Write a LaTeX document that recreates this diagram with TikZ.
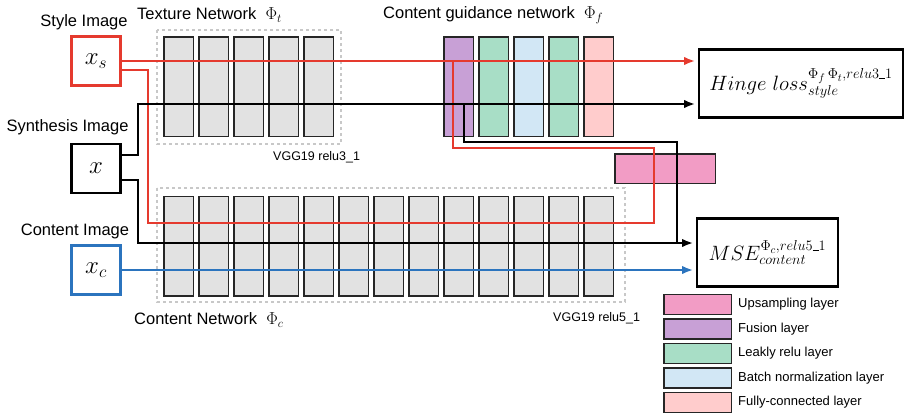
\documentclass[tikz,border=0pt]{standalone}
\usepackage{fontspec}
\setmainfont{Liberation Sans}
\usetikzlibrary{arrows.meta,positioning}

\definecolor{layerGray}{HTML}{E2E2E2}
\definecolor{fuseColor}{HTML}{C8A0D6}
\definecolor{reluColor}{HTML}{A8DEC6}
\definecolor{bnColor}{HTML}{D2E7F5}
\definecolor{fcColor}{HTML}{FFCCCC}
\definecolor{upColor}{HTML}{F29CC5}
\definecolor{styleRed}{HTML}{E53A2E}
\definecolor{contentBlue}{HTML}{2B74BE}
\definecolor{dashGray}{HTML}{C8C8C8}

\newcommand{\usbar}{\rule{6pt}{0.7pt}}

\tikzset{
  imgbox/.style={draw, line width=2.6pt, fill=white, minimum width=49, minimum height=49, inner sep=0, font=\fontsize{24}{26}\selectfont},
  layer/.style={draw=black!85, line width=1.5pt, minimum width=29.5, minimum height=99.5, inner sep=0},
  netbox/.style={draw=dashGray, dashed, line width=1.2pt},
  lossbox/.style={draw, line width=2.4pt, fill=white, minimum height=68, inner sep=0, font=\fontsize{22}{24}\selectfont},
  conn/.style={line width=1.9pt},
  tip/.style={-{Latex[length=11pt,width=8.5pt]}, shorten >=3pt},
  lbl/.style={font=\fontsize{16.5}{18}\selectfont, inner sep=0},
  smalllbl/.style={font=\fontsize{12.5}{14}\selectfont, inner sep=0},
  keybox/.style={draw=black!85, line width=1.5pt, minimum width=67.5, minimum height=20, inner sep=0},
  keylbl/.style={font=\fontsize{13}{15}\selectfont, inner sep=0},
}

\begin{document}
\begin{tikzpicture}[x=1pt,y=-1pt]
  \useasboundingbox (0,0) rectangle (906,413);

  %%%%%%%%%%%%%Input images%%%%%%%%%%%%%%%%%%%%%%
  \node[imgbox, draw=styleRed] (xs) at (96,61) {$x_s$};
  \node[imgbox] (syn) at (96,168.5) {$x$};
  \node[imgbox, draw=contentBlue] (xc) at (96,270) {$x_c$};
  \node[lbl] (styleLbl) at (84,22) {Style Image};
  \node[lbl] (synLbl) at (67.5,127) {Synthesis Image};
  \node[lbl] (conLbl) at (75,231) {Content Image};

  %%%%%%%%%%%%%Texture network%%%%%%%%%%%%%%%%%%%%%%
  \draw[netbox] (157,30) rectangle (341,144);
  \foreach \i in {1,...,5}
    \node[layer, fill=layerGray] (t\i) at ({143.5+35*\i},86.5) {};
  \node[lbl, anchor=west] (texLbl) at (137,15) {Texture Network \ $\Phi_t$};
  \node[smalllbl, anchor=west] (texVgg) at (273,157) {VGG19 relu3\_1};

  %%%%%%%%%%%%%Content network%%%%%%%%%%%%%%%%%%%%%%
  \draw[netbox] (157,188) rectangle (625,302);
  \foreach \i in {1,...,13}
    \node[layer, fill=layerGray] (c\i) at ({143.5+35*\i},246) {};
  \node[lbl, anchor=west] (conNetLbl) at (134,320) {Content Network \ $\Phi_c$};
  \node[smalllbl, anchor=west] (conVgg) at (553,318) {VGG19 relu5\_1};

  %%%%%%%%%%%%%Content guidance network%%%%%%%%%%%%%%%%%%%%%%
  \foreach \c [count=\i] in {fuseColor,reluColor,bnColor,reluColor,fcColor}
    \node[layer, fill=\c] (g\i) at ({423.5+35*\i},86.5) {};
  \node[lbl, anchor=west] (guideLbl) at (383,15) {Content guidance network \ $\Phi_f$};
  \node[layer, fill=upColor, minimum width=100.5, minimum height=29.5] (up) at (665,168.5) {};

  %%%%%%%%%%%%%Losses%%%%%%%%%%%%%%%%%%%%%%
  \node[lossbox, minimum width=203.5] (hinge) at (801,83.5)
    {$Hinge\ loss^{\Phi_f\,\Phi_t,relu3\usbar1}_{style}$};
  \node[lossbox, minimum width=140.5] (mse) at (767.5,252.5)
    {$MSE^{\Phi_c,relu5\usbar1}_{content}$};

  %%%%%%%%%%%%%Connections%%%%%%%%%%%%%%%%%%%%%%
  \coordinate (r1) at (148,223);
  \coordinate (r2) at (654,148);
  \coordinate (r3) at (453,61);
  \coordinate (b1) at (138,104);
  \coordinate (b2) at (138,243);
  \coordinate (b3) at (464,104);
  \coordinate (b4) at (677,142);

  \draw[conn, styleRed, tip] (xs.east) -- (xs.east -| hinge.west);
  \draw[conn, styleRed] ([yshift=-9pt]xs.east) -| (r1) -| (r2) -| (r3);
  \draw[conn, tip] ([yshift=13.5pt]syn.east) -| (b1) -- (b1 -| hinge.west);
  \draw[conn, tip] ([yshift=-11.5pt]syn.east) -| (b2) -- (b2 -| mse.west);
  \draw[conn] (b3) |- (b4) -- (b4 |- b2);
  \draw[conn, contentBlue, tip] (xc.east) -- (xc.east -| mse.west);

  %%%%%%%%%%%%%Legend%%%%%%%%%%%%%%%%%%%%%%
  \foreach \c/\t [count=\i] in {upColor/Upsampling layer, fuseColor/Fusion layer,
      reluColor/Leakly relu layer, bnColor/Batch normalization layer,
      fcColor/Fully-connected layer} {
    \node[keybox, fill=\c] (key\i) at ({697.5},{280+24.5*\i}) {};
    \node[keylbl, right=6pt of key\i] (keyLbl\i) {\t};
  }
\end{tikzpicture}
\end{document}
